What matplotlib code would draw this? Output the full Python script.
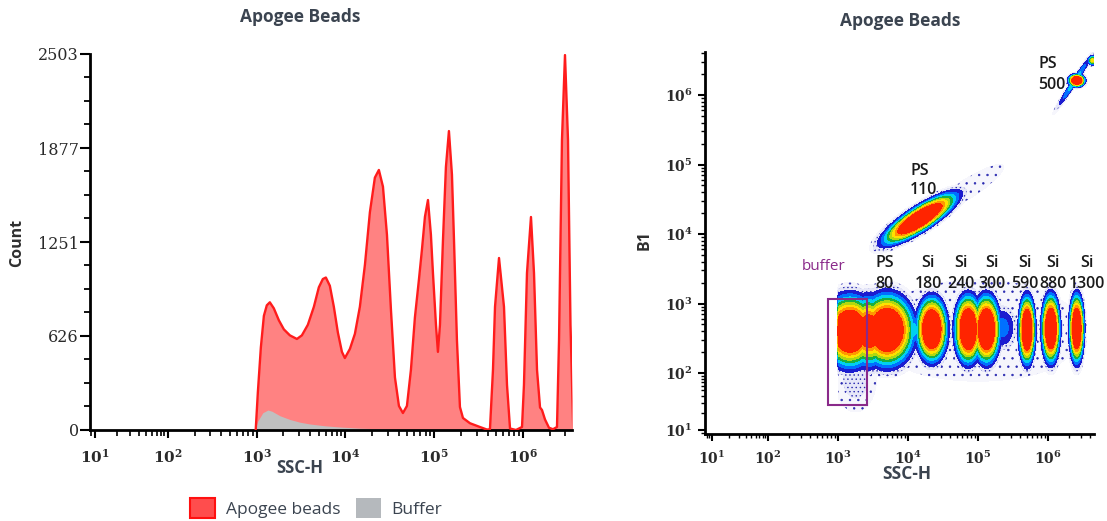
import numpy as np
import matplotlib
matplotlib.use("Agg")
import matplotlib.pyplot as plt
from matplotlib.patches import Patch, Rectangle
from matplotlib.ticker import LogLocator, FuncFormatter, NullFormatter, AutoMinorLocator

# ---------------- data ----------------
panel_title = "Apogee Beads"

# histogram of Apogee beads: SSC-H position (log10) and count
beads_ssc_log10 = [2.990, 3.014, 3.048, 3.082, 3.115, 3.149, 3.194, 3.251, 3.307, 3.375,
                   3.454, 3.510, 3.577, 3.645, 3.701, 3.746, 3.780, 3.825, 3.870, 3.915,
                   3.961, 3.994, 4.051, 4.107, 4.163, 4.220, 4.276, 4.332, 4.377, 4.423,
                   4.468, 4.513, 4.558, 4.603, 4.648, 4.693, 4.738, 4.783, 4.828, 4.862,
                   4.896, 4.930, 4.963, 4.986, 5.020, 5.042, 5.065, 5.099, 5.132, 5.166,
                   5.200, 5.223, 5.256, 5.290, 5.324, 5.403, 5.515, 5.594, 5.628, 5.662,
                   5.685, 5.730, 5.786, 5.820, 5.854, 5.921, 5.989, 6.011, 6.045, 6.090,
                   6.124, 6.158, 6.192, 6.214, 6.248, 6.293, 6.338, 6.383, 6.406, 6.439,
                   6.473, 6.507, 6.535, 6.565]
beads_count = [0, 250, 550, 760, 830, 850, 810, 730, 670, 630,
               606, 630, 700, 820, 950, 1005, 1015, 960, 820, 650,
               520, 479, 540, 640, 820, 1100, 1450, 1680, 1731, 1620,
               1300, 800, 350, 160, 113, 160, 400, 750, 1000, 1200,
               1420, 1531, 1300, 1045, 700, 520, 700, 1265, 1750, 1990,
               1700, 1265, 600, 153, 80, 45, 20, 3, 5, 400,
               820, 1145, 820, 300, 10, 0, 20, 300, 1045, 1418,
               1045, 400, 150, 133, 70, 15, 5, 20, 600, 1930,
               2496, 1930, 700, 30]

# histogram of buffer
buffer_ssc_log10 = [2.980, 3.014, 3.070, 3.127, 3.172, 3.262, 3.375, 3.487, 3.600,
                    3.769, 3.938, 4.163, 4.389, 4.558, 4.620]
buffer_count = [0, 60, 115, 133, 125, 95, 70, 52, 40, 28, 20, 12, 8, 3, 0]

count_ticks = [0, 626, 1251, 1877, 2503]
legend_labels = ["Apogee beads", "Buffer"]

# dot-plot populations (SSC-H log10, B1 log10, spread along / across, angle, relative density)
pop_names = ["buffer", "buffer-PS80", "PS80", "neck", "Si180", "Si240", "Si300",
             "Si300 shoulder", "Si590", "Si880", "Si1300", "PS110", "PS110 tail", "PS500",
             "PS500 streak", "PS500 edge", "band haze", "buffer tail"]
pop_ssc_log10 = [3.17, 3.44, 3.70, 4.05, 4.34, 4.86, 5.12, 5.35, 5.70, 6.04, 6.41,
                 4.17, 4.85, 6.41, 6.38, 6.64, 5.00, 3.25]
pop_b1_log10 = [2.60, 2.60, 2.62, 2.62, 2.63, 2.63, 2.63, 2.65, 2.62, 2.64, 2.64,
                4.22, 4.65, 6.21, 6.20, 6.50, 2.60, 1.90]
pop_spread_a = [0.15, 0.12, 0.15, 0.10, 0.085, 0.075, 0.075, 0.10, 0.045, 0.05, 0.04,
                0.24, 0.45, 0.045, 0.22, 0.03, 1.10, 0.18]
pop_spread_b = [0.20, 0.20, 0.20, 0.13, 0.18, 0.19, 0.19, 0.16, 0.19, 0.19, 0.19,
                0.065, 0.10, 0.035, 0.02, 0.03, 0.55, 0.35]
pop_angle_deg = [0, 0, 0, 0, 0, 0, 0, 0, 0, 0, 0, 33, 33, 0, 57, 0, 0, 0]
pop_density = [0.95, 0.6, 1.0, 0.06, 1.0, 1.0, 1.0, 0.035, 1.0, 1.0, 1.0,
               1.0, 0.005, 1.0, 0.06, 0.2, 0.005, 0.008]
trigger_ssc = 1e3

bead_top = ["PS", "Si", "Si", "Si", "Si", "Si", "Si"]
bead_bottom = ["80", "180", "240", "300", "590", "880", "1300"]
bead_label_ssc = [4677, 19500, 57500, 158500, 467700, 1175000, 3630000]
bead_label_y_top = 3770
bead_label_y_bottom = 1940

ps_labels = [("PS", "110"), ("PS", "500")]
ps_label_ssc = [10700, 724000]
ps_label_y_top = [81000, 2800000]
ps_label_y_bottom = [42600, 1410000]

buffer_gate_ssc = (720, 2600)
buffer_gate_b1 = (27.5, 1148)
buffer_label_pos = (616, 3400)

# ---------------- style ----------------
plt.rcParams["mathtext.fontset"] = "dejavuserif"
plt.rcParams["hatch.color"] = "#2828b0"
plt.rcParams["hatch.linewidth"] = 0.5
title_color = "#3b4450"


def make_scale(k):
    def fwd(v):
        v = np.asarray(v, dtype=float)
        l = np.log10(np.clip(v, 1e-300, None))
        return np.where(l >= 2, l, 2 - (2 - l) * k)

    def inv(t):
        t = np.asarray(t, dtype=float)
        l = np.where(t >= 2, t, 2 - (2 - t) / k)
        return 10.0 ** l
    return fwd, inv


def pow_fmt(v, pos):
    if v <= 0:
        return ""
    e = int(round(np.log10(v)))
    return r"$\mathbf{10^{%d}}$" % e


def style_log_axis(axis):
    axis.set_major_locator(LogLocator(base=10, subs=(1.0,), numticks=20))
    axis.set_minor_locator(LogLocator(base=10, subs=np.arange(2, 10) * 1.0, numticks=20))
    axis.set_major_formatter(FuncFormatter(pow_fmt))
    axis.set_minor_formatter(NullFormatter())


fig = plt.figure(figsize=(11.07, 5.21), dpi=100)
W, H = 1107, 521

# ---------------- left: histogram ----------------
axL = fig.add_axes([90 / W, (H - 430) / H, (572 - 90) / W, (430 - 54) / H])
axL.set_xscale("function", functions=make_scale(0.822))
bx = 10.0 ** np.array(beads_ssc_log10)
ux = 10.0 ** np.array(buffer_ssc_log10)
axL.fill_between(bx, beads_count, 0, color="#ff8282", lw=0, zorder=1)
axL.fill_between(ux, buffer_count, 0, color="#c0c0c0", lw=0, zorder=2)
axL.plot(bx, beads_count, color="#ff1c1c", lw=1.7, zorder=3, solid_joinstyle="round")
axL.set_xlim(10 ** 0.934, 10 ** 6.552)
axL.set_ylim(0, 2503)
style_log_axis(axL.xaxis)
axL.set_yticks(count_ticks)
axL.set_yticklabels([str(c) for c in count_ticks], fontfamily="DejaVu Serif", fontsize=11.5,
                    color="#2a2a2a")
axL.yaxis.set_minor_locator(AutoMinorLocator(4))
for s in ["top", "right"]:
    axL.spines[s].set_visible(False)
for s in ["left", "bottom"]:
    axL.spines[s].set_linewidth(2.0)
axL.tick_params(axis="y", which="major", direction="out", length=7, width=1.5, pad=1)
axL.tick_params(axis="y", which="minor", direction="out", length=4, width=1.3)
axL.tick_params(axis="x", which="major", direction="out", length=6, width=1.5, pad=7,
                labelsize=11, labelcolor="#2a2a2a")
axL.tick_params(axis="x", which="minor", direction="out", length=4, width=1.2)

fig.text(300 / W, 1 - 17 / H, panel_title, ha="center", va="center", fontsize=12.5,
         fontweight="bold", color=title_color, family="Open Sans")
fig.text(300 / W, 1 - 468 / H, "SSC-H", ha="center", va="center", fontsize=12,
         fontweight="bold", color=title_color, family="Open Sans")
fig.text(17 / W, 1 - 243 / H, "Count", ha="center", va="center", rotation=90, fontsize=11.5,
         fontweight="bold", color="#2f2f2f", family="Open Sans")

handles = [Patch(facecolor="#ff4d4d", edgecolor="#ff1010", lw=1.5),
           Patch(facecolor="#b5b9bd", edgecolor="none")]
leg = fig.legend(handles, legend_labels, loc="center", bbox_to_anchor=(316 / W, 1 - 508 / H),
                 ncol=2, frameon=False, handlelength=1.45, handleheight=1.45,
                 columnspacing=0.9, handletextpad=0.6, prop={"family": "Open Sans", "size": 12.5})
for t in leg.get_texts():
    t.set_color(title_color)

# ---------------- right: dot plot ----------------
axR = fig.add_axes([705 / W, (H - 434) / H, (1094 - 705) / W, (434 - 52) / H])
axR.set_xscale("function", functions=make_scale(0.80))
axR.set_yscale("function", functions=make_scale(0.82))
axR.set_xlim(10 ** 0.875, 10 ** 6.657)
axR.set_ylim(10 ** 0.929, 10 ** 6.62)

gx = np.linspace(0.85, 6.70, 800)
gy = np.linspace(0.90, 6.65, 800)
GX, GY = np.meshgrid(gx, gy)
D = np.zeros_like(GX)
for cx, cy, sa, sb, ang, w in zip(pop_ssc_log10, pop_b1_log10, pop_spread_a, pop_spread_b,
                                  pop_angle_deg, pop_density):
    a = np.deg2rad(ang)
    dx, dy = GX - cx, GY - cy
    u = dx * np.cos(a) + dy * np.sin(a)
    v = -dx * np.sin(a) + dy * np.cos(a)
    D = np.maximum(D, w * np.exp(-0.5 * ((u / sa) ** 2 + (v / sb) ** 2)))
D[GX < np.log10(trigger_ssc)] = 0.0

levels = [0.002, 0.005, 0.012, 0.025, 0.045, 0.075, 0.11, 0.16, 0.22, 0.3, 5.0]
colors = ["#f6f6fc", "#e6e7f8", "#1c1cd0", "#0070ff", "#00d0f0", "#18b040", "#b0d810",
          "#ffe000", "#ff9800", "#ff2400"]
hatches = ["..", "...."] + [None] * 8
axR.contourf(10 ** GX, 10 ** GY, D, levels=levels, colors=colors, hatches=hatches, zorder=1)

axR.add_patch(Rectangle((buffer_gate_ssc[0], buffer_gate_b1[0]),
                        buffer_gate_ssc[1] - buffer_gate_ssc[0],
                        buffer_gate_b1[1] - buffer_gate_b1[0],
                        fill=False, edgecolor="#8a2a8a", lw=1.5, zorder=4))
axR.text(buffer_label_pos[0], buffer_label_pos[1], "buffer", ha="center", va="center",
         fontsize=11, color="#8a2a8a", family="Open Sans", zorder=5)
for top, bot, xv in zip(bead_top, bead_bottom, bead_label_ssc):
    axR.text(xv, bead_label_y_top, top, ha="center", va="center", fontsize=11.5,
             fontweight="semibold", color="#1a1a1a", family="Open Sans", zorder=5)
    axR.text(xv, bead_label_y_bottom, bot, ha="center", va="center", fontsize=11.5,
             fontweight="semibold", color="#1a1a1a", family="Open Sans", zorder=5,
             clip_on=False)
for (top, bot), xv, yt, yb in zip(ps_labels, ps_label_ssc, ps_label_y_top, ps_label_y_bottom):
    axR.text(xv, yt, top, ha="left", va="center", fontsize=11.5, fontweight="semibold",
             color="#1a1a1a", family="Open Sans", zorder=5)
    axR.text(xv, yb, bot, ha="left", va="center", fontsize=11.5, fontweight="semibold",
             color="#1a1a1a", family="Open Sans", zorder=5)

style_log_axis(axR.xaxis)
style_log_axis(axR.yaxis)
for s in ["top", "right"]:
    axR.spines[s].set_visible(False)
for s in ["left", "bottom"]:
    axR.spines[s].set_linewidth(2.0)
axR.tick_params(which="major", direction="out", length=5, width=1.5, pad=4,
                labelsize=10, labelcolor="#2a2a2a")
axR.tick_params(axis="x", which="major", pad=6)
axR.tick_params(which="minor", direction="out", length=3, width=1.0)

fig.text(900 / W, 1 - 21 / H, panel_title, ha="center", va="center", fontsize=12.5,
         fontweight="bold", color=title_color, family="Open Sans")
fig.text(907 / W, 1 - 474 / H, "SSC-H", ha="center", va="center", fontsize=12.5,
         fontweight="bold", color=title_color, family="Open Sans")
fig.text(645 / W, 1 - 240 / H, "B1", ha="center", va="center", rotation=90, fontsize=11.5,
         fontweight="bold", color="#2f2f2f", family="Open Sans")

fig.savefig("out.png", dpi=100)
